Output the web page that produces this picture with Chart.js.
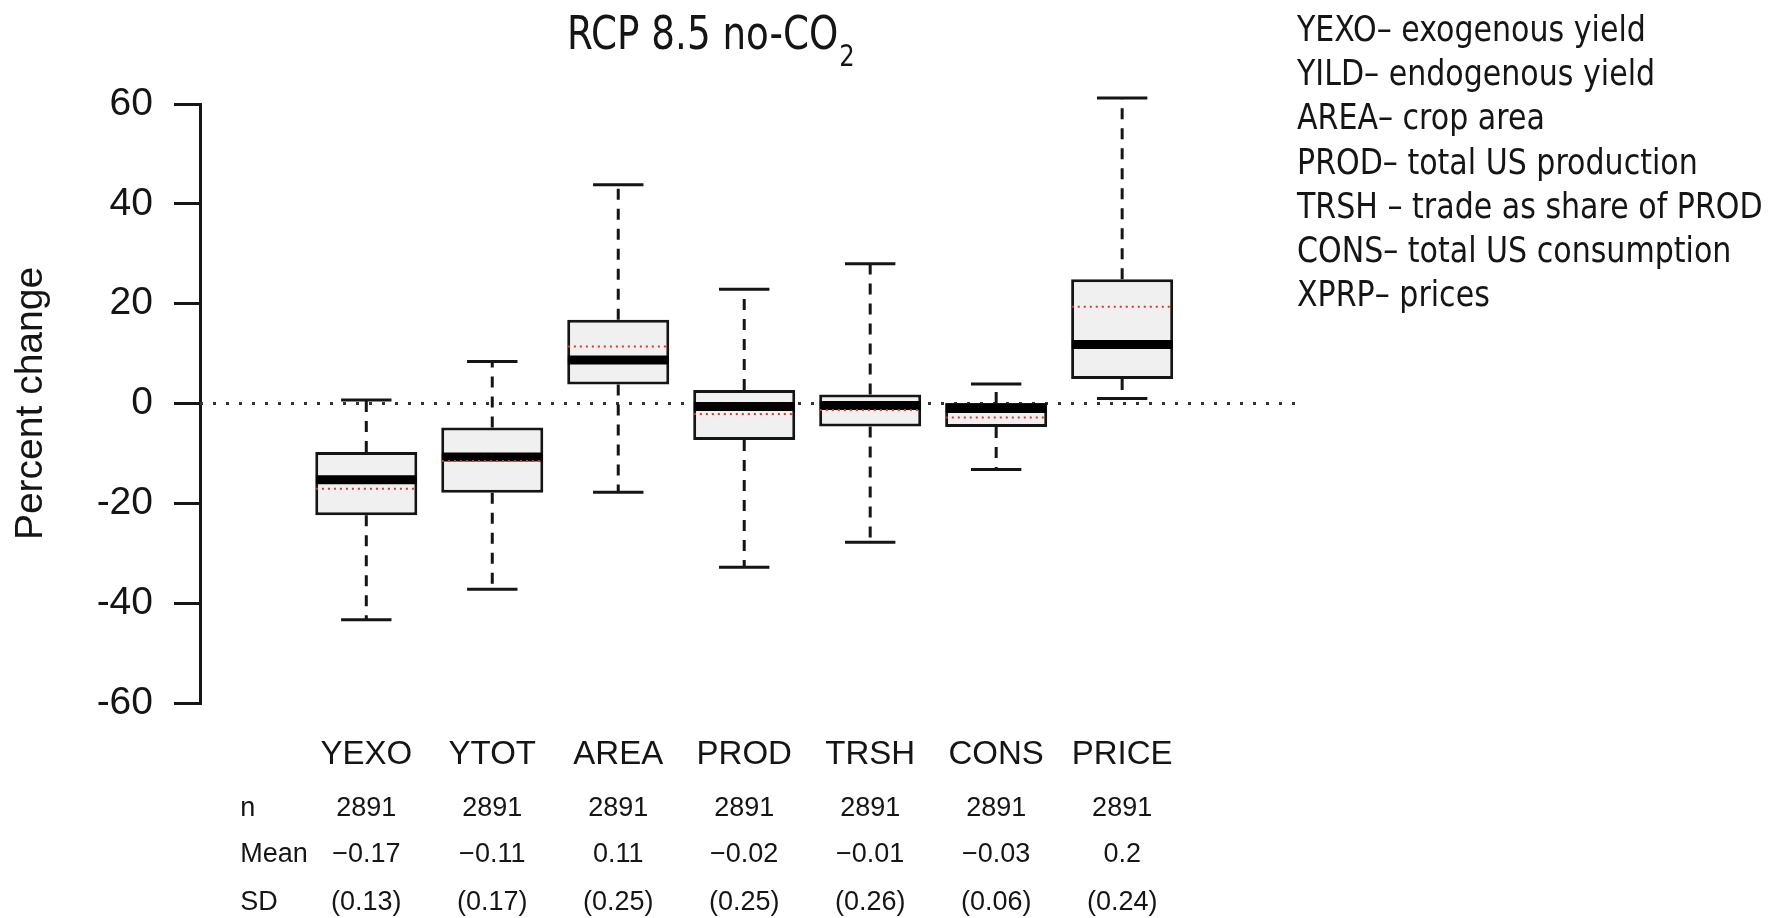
<!DOCTYPE html>
<html>
<head>
<meta charset="utf-8">
<title>RCP 8.5 no-CO2</title>
<script src="https://cdn.jsdelivr.net/npm/chart.js@4.4.1/dist/chart.umd.min.js"></script>
<style>
    html, body { margin: 0; padding: 0; background: #ffffff; }
</style>
</head>
<body>
<canvas id="boxChart" width="1775" height="918"></canvas>
<script>
// Chart data (percent change)
const categories   = ['YEXO', 'YTOT', 'AREA', 'PROD', 'TRSH', 'CONS', 'PRICE'];
const whiskerLow   = [-43.3, -37.2, -17.8, -32.8, -27.8, -13.2, 1.0];
const quartile1    = [-22.4, -17.9, 3.8, -7.3, -4.6, -4.7, 4.9];
const medians      = [-15.3, -10.7, 8.7, -0.6, -0.4, -1.0, 11.8];
const means        = [-17.1, -11.5, 11.4, -2.1, -1.3, -2.8, 19.4];
const quartile3    = [-9.7, -4.8, 16.8, 2.7, 1.8, 0.1, 24.9];
const whiskerHigh  = [0.7, 8.4, 43.8, 22.9, 28.0, 3.9, 61.2];
const yTicks       = [-60, -40, -20, 0, 20, 40, 60];

// Summary table under the axis
const nCounts    = ['2891', '2891', '2891', '2891', '2891', '2891', '2891'];
const meanLabels = ['\u22120.17', '\u22120.11', '0.11', '\u22120.02', '\u22120.01', '\u22120.03', '0.2'];
const sdLabels   = ['(0.13)', '(0.17)', '(0.25)', '(0.25)', '(0.26)', '(0.06)', '(0.24)'];
const rowHeaders = ['n', 'Mean', 'SD'];

// Key on the right
const keyLines = [
    'YEXO\u2013 exogenous yield',
    'YILD\u2013 endogenous yield',
    'AREA\u2013 crop area',
    'PROD\u2013 total US production',
    'TRSH \u2013 trade as share of PROD',
    'CONS\u2013 total US consumption',
    'XPRP\u2013 prices'
];

const X_MIN = -0.32;
const X_MAX = 8.38;
const HALF_BOX = 0.4;
const HALF_CAP = 0.2;
const INK = '#151515';

// helpers to turn the arrays into line segments (null breaks the line)
function horizontalSegments(values, half) {
    const pts = [];
    values.forEach((v, i) => {
        pts.push({ x: i + 1 - half, y: v });
        pts.push({ x: i + 1 + half, y: v });
        pts.push({ x: i + 1 + half, y: null });
    });
    return pts;
}

function whiskerSegments() {
    const pts = [];
    categories.forEach((c, i) => {
        pts.push({ x: i + 1, y: quartile3[i] });
        pts.push({ x: i + 1, y: whiskerHigh[i] });
        pts.push({ x: i + 1, y: null });
        pts.push({ x: i + 1, y: quartile1[i] });
        pts.push({ x: i + 1, y: whiskerLow[i] });
        pts.push({ x: i + 1, y: null });
    });
    return pts;
}

// Title, key and n/Mean/SD table
const extrasPlugin = {
    id: 'extras',
    afterDraw(chart) {
        const ctx = chart.ctx;
        const xs = chart.scales.x;
        const area = chart.chartArea;

        ctx.save();
        ctx.fillStyle = INK;
        ctx.textBaseline = 'alphabetic';

        // title with subscript, condensed look
        ctx.save();
        ctx.translate(area.left + 367, 49);
        ctx.scale(0.81, 1);
        ctx.font = '46px "DejaVu Sans"';
        ctx.textAlign = 'left';
        const main = 'RCP 8.5 no-CO';
        ctx.fillText(main, 0, 0);
        const w = ctx.measureText(main).width;
        ctx.font = '30px "DejaVu Sans"';
        ctx.fillText('2', w + 1, 17);
        ctx.restore();

        // key lines
        keyLines.forEach((line, i) => {
            ctx.save();
            ctx.translate(area.right + 1, 41 + i * 44.2);
            ctx.scale(0.835, 1);
            ctx.font = '36px "DejaVu Sans"';
            ctx.textAlign = 'left';
            ctx.fillText(line, 0, 0);
            ctx.restore();
        });

        // table rows
        ctx.font = '27px "Liberation Sans", Arial, sans-serif';
        ctx.textBaseline = 'middle';
        const rows = [nCounts, meanLabels, sdLabels];
        const rowY = [area.bottom + 106, area.bottom + 152, area.bottom + 200];
        rows.forEach((vals, r) => {
            ctx.textAlign = 'left';
            ctx.fillText(rowHeaders[r], xs.getPixelForValue(0), rowY[r]);
            ctx.textAlign = 'center';
            vals.forEach((v, i) => {
                ctx.fillText(v, xs.getPixelForValue(i + 1), rowY[r]);
            });
        });
        ctx.restore();
    }
};

const ctx = document.getElementById('boxChart');

new Chart(ctx, {
    type: 'bar',
    data: {
        datasets: [
            {
                type: 'line',
                data: [{ x: X_MIN, y: 0 }, { x: X_MAX, y: 0 }],
                borderColor: '#333333',
                borderWidth: 3,
                borderDash: [3, 10],
                pointRadius: 0,
                order: 6
            },
            {
                type: 'line',
                data: whiskerSegments(),
                borderColor: INK,
                borderWidth: 3,
                borderDash: [11, 9],
                pointRadius: 0,
                spanGaps: false,
                clip: false,
                order: 5
            },
            {
                type: 'line',
                data: horizontalSegments(whiskerHigh, HALF_CAP).concat(horizontalSegments(whiskerLow, HALF_CAP)),
                borderColor: INK,
                borderWidth: 3,
                pointRadius: 0,
                spanGaps: false,
                clip: false,
                order: 4
            },
            {
                type: 'bar',
                data: categories.map((c, i) => ({ x: i + 1, y: [quartile1[i], quartile3[i]] })),
                backgroundColor: '#f0f0f0',
                borderColor: INK,
                borderWidth: 3,
                borderSkipped: false,
                barPercentage: 0.81,
                categoryPercentage: 1,
                order: 3
            },
            {
                type: 'line',
                data: horizontalSegments(medians, HALF_BOX),
                borderColor: '#000000',
                borderWidth: 9,
                pointRadius: 0,
                spanGaps: false,
                order: 2
            },
            {
                type: 'line',
                data: horizontalSegments(means, HALF_BOX),
                borderColor: '#e0342e',
                borderWidth: 2,
                borderDash: [2, 4],
                pointRadius: 0,
                spanGaps: false,
                order: 1
            }
        ]
    },
    options: {
        responsive: false,
        animation: false,
        events: [],
        layout: {
            padding: { top: 104, right: 479, bottom: 0, left: 0 }
        },
        plugins: {
            legend: { display: false },
            tooltip: { enabled: false }
        },
        scales: {
            x: {
                type: 'linear',
                min: X_MIN,
                max: X_MAX,
                offset: false,
                afterBuildTicks: scale => {
                    scale.ticks = categories.map((c, i) => ({ value: i + 1 }));
                },
                afterFit: scale => { scale.height = 215; },
                grid: { display: false },
                border: { display: false },
                ticks: {
                    autoSkip: false,
                    maxRotation: 0,
                    padding: 24,
                    color: INK,
                    font: { size: 33, family: '"Liberation Sans", Arial, sans-serif' },
                    callback: value => categories[value - 1] || ''
                }
            },
            y: {
                min: -60,
                max: 60,
                afterBuildTicks: scale => {
                    scale.ticks = yTicks.map(v => ({ value: v }));
                },
                afterFit: scale => { scale.width = 200; },
                grid: {
                    drawOnChartArea: false,
                    drawTicks: true,
                    tickLength: 26,
                    color: INK,
                    lineWidth: 3
                },
                border: { color: INK, width: 3 },
                ticks: {
                    padding: 21,
                    color: INK,
                    font: { size: 39, family: '"Liberation Sans", Arial, sans-serif' },
                    callback: value => String(value)
                },
                title: {
                    display: true,
                    text: 'Percent change',
                    color: INK,
                    padding: { top: 8, bottom: 0 },
                    font: { size: 39, family: '"Liberation Sans", Arial, sans-serif' }
                }
            }
        }
    },
    plugins: [extrasPlugin]
});
</script>
</body>
</html>
